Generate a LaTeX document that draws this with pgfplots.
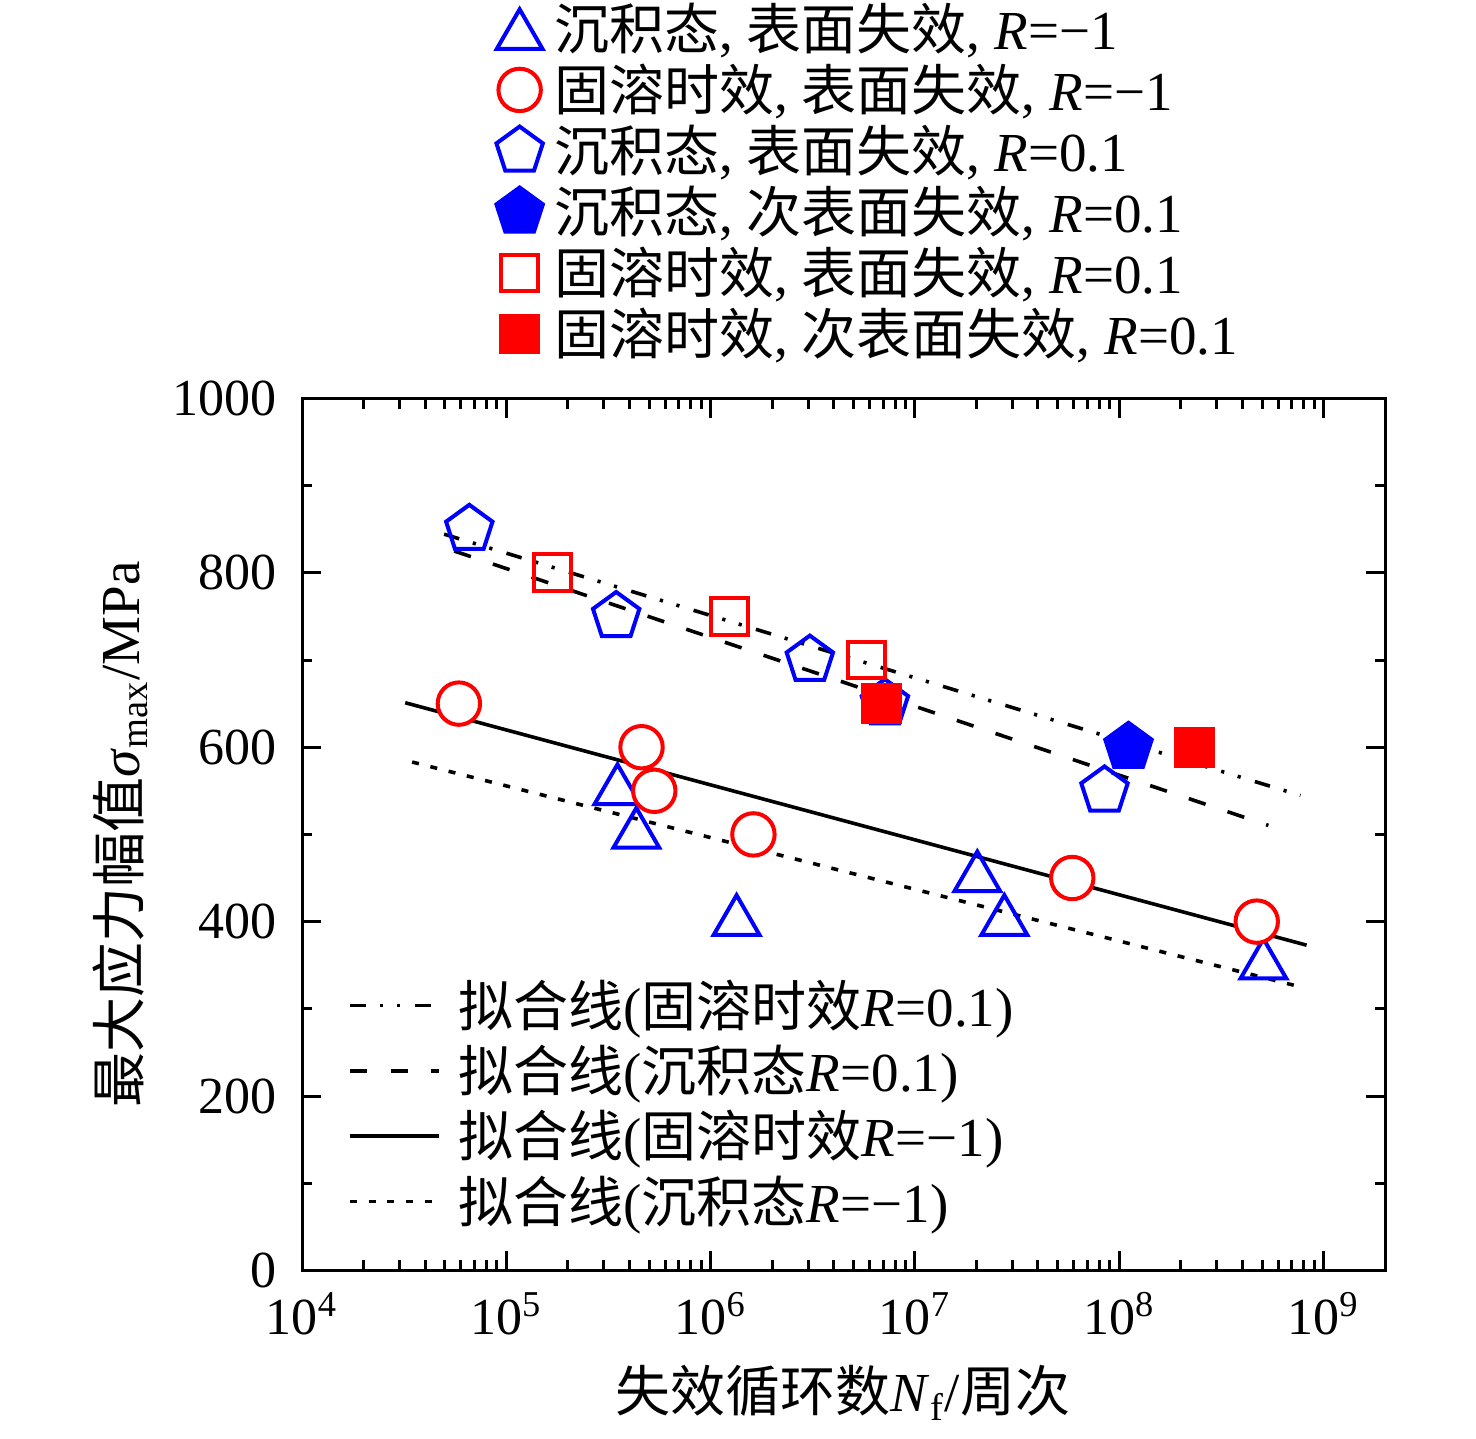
\documentclass[border=0pt]{standalone}
\usepackage{fontspec}
\setmainfont{Liberation Serif}
\newfontfamily\cjk{Noto Sans CJK SC}
\usepackage{pgfplots}
\pgfplotsset{compat=1.18}
\newcommand{\zh}[1]{{\cjk #1}}

\pgfplotstableread{
x y
3.50e5 550
4.33e5 500
1.34e6 400
2.02e7 450
2.74e7 400
5.08e8 350
}\triR

\pgfplotstableread{
x y
5.86e4 650
4.59e5 600
5.30e5 550
1.62e6 500
5.89e7 450
4.71e8 400
}\cirR

\pgfplotstableread{
x y
6.59e4 850
3.45e5 750
3.06e6 700
7.13e6 650
8.47e7 550
}\penO

\pgfplotstableread{
x y
1.11e8 600
}\penF

\pgfplotstableread{
x y
1.69e5 800
1.24e6 750
5.79e6 700
}\sqO

\pgfplotstableread{
x y
6.89e6 650
2.33e8 600
}\sqF

\tikzset{
  ddpat/.style={dash pattern=on 3.95pt off 3.55pt on 0.8pt off 3.5pt on 0.8pt off 3.7pt},
  dapat/.style={dash pattern=on 4.4pt off 5.8pt},
  dotpat/.style={dash pattern=on 1.75pt off 2.95pt},
}

\begin{document}
\fontsize{13.75pt}{16pt}\selectfont
\begin{tikzpicture}
\path[use as bounding box] (-75.5pt,-41.9pt) rectangle (293.5pt,317.6pt);
\begin{axis}[
  at={(0pt,0pt)}, anchor=south west,
  scale only axis, width=270.75pt, height=218pt,
  xmode=log, log basis x=10,
  xmin=1e4, xmax=2e9, ymin=0, ymax=1000,
  xtick={1e4,1e5,1e6,1e7,1e8,1e9},
  xticklabels={10\textsuperscript{4},10\textsuperscript{5},10\textsuperscript{6},10\textsuperscript{7},10\textsuperscript{8},10\textsuperscript{9}},
  minor xtick={2e4,3e4,4e4,5e4,6e4,7e4,8e4,9e4,
               2e5,3e5,4e5,5e5,6e5,7e5,8e5,9e5,
               2e6,3e6,4e6,5e6,6e6,7e6,8e6,9e6,
               2e7,3e7,4e7,5e7,6e7,7e7,8e7,9e7,
               2e8,3e8,4e8,5e8,6e8,7e8,8e8,9e8,2e9},
  ytick={0,200,400,600,800,1000},
  minor ytick={100,300,500,700,900},
  tick align=inside,
  major tick length=4.8pt, minor tick length=2.6pt,
  axis line style={line width=0.75pt},
  every tick/.style={line width=0.75pt,black},
  /pgf/number format/assume math mode=true,
  /pgf/number format/1000 sep={},
  yticklabel style={font=\fontsize{13pt}{13pt}\selectfont, xshift=-1.5pt},
  xticklabel style={font=\fontsize{13pt}{13pt}\selectfont, yshift=-0.8pt},
  xlabel={\zh{失效循环数}\textit{N}\textsubscript{f}/\zh{周次}},
  xlabel style={at={(axis description cs:0.4995,-0.1617)}, anchor=base},
  ylabel={\zh{最大应力幅值}\textit{σ}\textsubscript{max}/MPa},
  ylabel style={at={(axis description cs:-0.1505,0.5)}, anchor=base},
  legend cell align=left,
  legend style={at={(axis description cs:0.1714,1.4587)}, anchor=north west,
    draw=none, fill=none, inner sep=0pt, outer sep=0pt,
    row sep=0pt, column sep=0pt,
    nodes={inner sep=0pt, text height=11.5pt, text depth=1.2pt, anchor=west}},
  legend image code/.code={\draw[#1] plot coordinates {(0pt,0pt)};
    \path[draw=none,fill=none] (-8pt,-7.625pt) rectangle (8.7pt,7.625pt);},
]
% fit lines
\addplot[black, line width=0.9pt, ddpat, forget plot] coordinates {(4.96e4,844.3) (7.71e8,544.7)};
\addplot[black, line width=0.9pt, dapat, forget plot] coordinates {(5.56e4,825) (5.37e8,510.3)};
\addplot[black, line width=0.9pt, forget plot] coordinates {(3.2e4,651) (8.26e8,373)};
\addplot[black, line width=0.9pt, dotpat, forget plot] coordinates {(3.46e4,583) (7.9e8,324.5)};
% data
\addplot[only marks, blue, line width=1pt, mark=triangle, mark size=6.6pt,
  mark options={solid, fill=white},
  legend image code/.code={\draw[##1] plot coordinates {(0pt,-1.7pt)};
    \path[draw=none,fill=none] (-8pt,-7.625pt) rectangle (8.7pt,7.625pt);}] table[x=x,y=y] {\triR};
\addlegendentry{\zh{沉积态}, \zh{表面失效}, \textit{R}=−1}
\addplot[only marks, red, line width=1pt, mark=*, mark size=5.3pt,
  mark options={solid, fill=white}] table[x=x,y=y] {\cirR};
\addlegendentry{\zh{固溶时效}, \zh{表面失效}, \textit{R}=−1}
\addplot[only marks, blue, line width=1pt, mark=pentagon, mark size=6.1pt,
  mark options={solid, fill=white}] table[x=x,y=y] {\penO};
\addlegendentry{\zh{沉积态}, \zh{表面失效}, \textit{R}=0.1}
\addplot[only marks, blue, line width=1pt, mark=pentagon*, mark size=6.1pt,
  mark options={solid, fill=blue}] table[x=x,y=y] {\penF};
\addlegendentry{\zh{沉积态}, \zh{次表面失效}, \textit{R}=0.1}
\addplot[only marks, red, line width=1pt, mark=square, mark size=4.6pt,
  mark options={solid, fill=white}] table[x=x,y=y] {\sqO};
\addlegendentry{\zh{固溶时效}, \zh{表面失效}, \textit{R}=0.1}
\addplot[only marks, red, line width=1pt, mark=square*, mark size=4.6pt,
  mark options={solid, fill=red}] table[x=x,y=y] {\sqF};
\addlegendentry{\zh{固溶时效}, \zh{次表面失效}, \textit{R}=0.1}
\end{axis}

\begin{axis}[
  at={(0pt,0pt)}, anchor=south west,
  scale only axis, width=270.75pt, height=218pt,
  xmin=0, xmax=1, ymin=0, ymax=1,
  hide axis,
  legend cell align=left,
  legend style={at={(axis description cs:0.0425,0.3412)}, anchor=north west,
    draw=none, fill=none, inner sep=0pt, outer sep=0pt,
    row sep=0pt, column sep=0pt,
    nodes={inner sep=0pt, text height=11.5pt, text depth=1.2pt, anchor=west}},
  legend image code/.code={\draw[#1] (0pt,0pt) -- (22.25pt,0pt);
    \path[draw=none,fill=none] (0pt,-8.17pt) rectangle (27.2pt,8.17pt);},
]
\addlegendimage{black, line width=0.9pt, ddpat}
\addlegendentry{\zh{拟合线}(\zh{固溶时效}\textit{R}=0.1)}
\addlegendimage{black, line width=0.9pt, dapat}
\addlegendentry{\zh{拟合线}(\zh{沉积态}\textit{R}=0.1)}
\addlegendimage{black, line width=0.9pt}
\addlegendentry{\zh{拟合线}(\zh{固溶时效}\textit{R}=−1)}
\addlegendimage{black, line width=0.9pt, dotpat}
\addlegendentry{\zh{拟合线}(\zh{沉积态}\textit{R}=−1)}
\end{axis}
\end{tikzpicture}
\end{document}
